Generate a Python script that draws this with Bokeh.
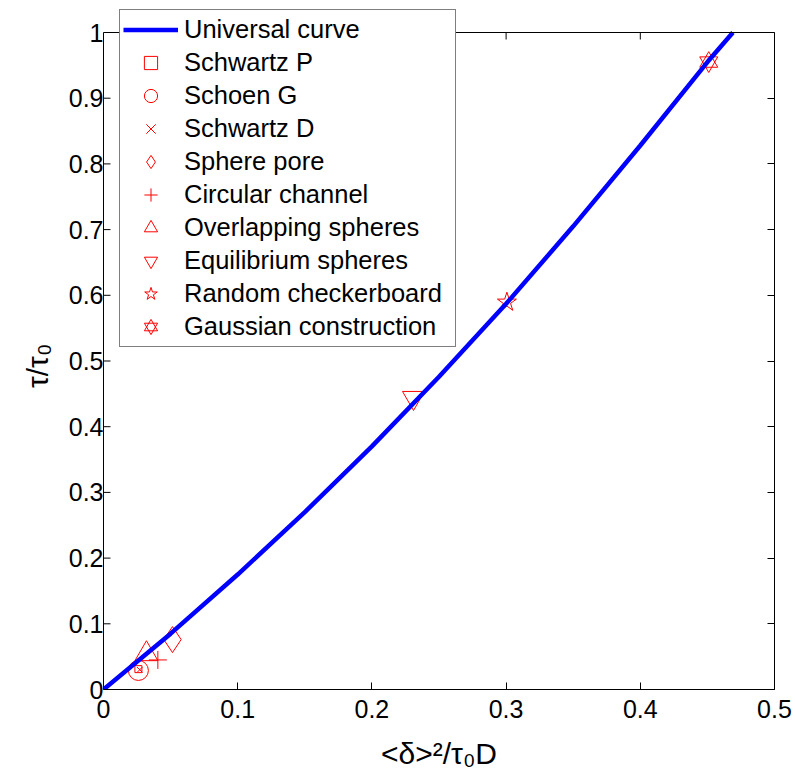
import math
from bokeh.plotting import figure
from bokeh.models import Legend, LegendItem, LinearAxis, FixedTicker, Range1d, Span, Title
from bokeh.embed import file_html
from bokeh.resources import INLINE

# ---------------- data ----------------
curve_x = [0.0, 0.05, 0.10, 0.15, 0.20, 0.25, 0.30, 0.35, 0.40, 0.45, 0.469]
curve_y = [0.0, 0.085, 0.175, 0.270, 0.370, 0.476, 0.587, 0.705, 0.828, 0.955, 1.0]

schwartz_p_x = [0.026]
schwartz_p_y = [0.031]
schoen_g_x = [0.026]
schoen_g_y = [0.029]
schwartz_d_x = [0.027]
schwartz_d_y = [0.030]
sphere_pore_x = [0.0514]
sphere_pore_y = [0.076]
circ_channel_x = [0.0405]
circ_channel_y = [0.045]
overlap_x = [0.032]
overlap_y = [0.054]
equil_x = [0.231]
equil_y = [0.444]
checker_x = [0.3006]
checker_y = [0.5895]
gauss_x = [0.451]
gauss_y = [0.955]

x_ticks = [0, 0.1, 0.2, 0.3, 0.4, 0.5]
x_tick_labels = ["0", "0.1", "0.2", "0.3", "0.4", "0.5"]
y_ticks = [0, 0.1, 0.2, 0.3, 0.4, 0.5, 0.6, 0.7, 0.8, 0.9, 1]
y_tick_labels = ["0", "0.1", "0.2", "0.3", "0.4", "0.5", "0.6", "0.7", "0.8", "0.9", "1"]

x_title = "<δ>²/τ₀D"
y_title = "τ/τ₀"

FONT = "Liberation Sans"
RED = "#ff0000"
BLUE = "#0000ff"

# ---------------- layout (pixels) ----------------
W, H = 795, 776
FRAME_L, FRAME_R = 103, 774     # axes box left / right
BOX_TOP, FRAME_B = 32, 689      # axes box top / bottom
# the frame reaches the top of the canvas so the legend may overhang the box
Y_END = FRAME_B / (FRAME_B - BOX_TOP)

p = figure(width=W, height=H, x_range=Range1d(0, 0.5), y_range=Range1d(0, Y_END),
           output_backend="svg", toolbar_location=None,
           min_border_left=FRAME_L, min_border_right=W - FRAME_R,
           min_border_top=0, min_border_bottom=H - FRAME_B)
p.xgrid.visible = False
p.ygrid.visible = False
p.outline_line_color = None
p.background_fill_color = "white"
p.border_fill_color = "white"

def style_axis(ax, ticks, labels, show, tick_in=7):
    ax.ticker = FixedTicker(ticks=ticks)
    ax.major_label_overrides = {t: (l if show else "") for t, l in zip(ticks, labels)}
    ax.major_tick_in = tick_in
    ax.major_tick_out = 0
    ax.minor_tick_in = 0
    ax.minor_tick_out = 0
    ax.major_tick_line_color = "black"
    ax.axis_line_color = "black"
    ax.major_label_text_font = FONT
    ax.major_label_text_font_size = "25px"
    ax.major_label_text_color = "black"

xa = p.xaxis[0]
ya = p.yaxis[0]
style_axis(xa, x_ticks, x_tick_labels, True)
style_axis(ya, y_ticks, y_tick_labels, True, tick_in=0)   # inward ticks drawn below
ya.bounds = (0, 1)
xa.major_label_standoff = 10
ya.major_label_standoff = 0

xa.axis_label = x_title
xa.axis_label_text_font = FONT
xa.axis_label_text_font_size = "30px"
xa.axis_label_text_font_style = "normal"
xa.axis_label_text_color = "black"
xa.axis_label_standoff = 16

# trailing no-break spaces move the centred, rotated title down along the axis
ytitle = Title(text=y_title + "\u00a0" * 5, align="center", standoff=24,
               text_font=FONT, text_font_size="30px", text_font_style="normal",
               text_color="black")
p.add_layout(ytitle, "left")

right_ax = LinearAxis(bounds=(0, 1))
style_axis(right_ax, y_ticks, y_tick_labels, False)
p.add_layout(right_ax, "right")

# top edge of the axes box, inward ticks on top and left
p.add_layout(Span(location=1, dimension="width", line_color="black", line_width=1))
p.ray(x=x_ticks, y=[1] * len(x_ticks), length=7, length_units="screen",
      angle=-math.pi / 2, line_color="black", line_width=1)
p.ray(x=[0] * len(y_ticks), y=y_ticks, length=7, length_units="screen",
      angle=0, line_color="black", line_width=1)

# ---------------- markers ----------------
mk = dict(line_color=RED, fill_color=None, line_width=1)
r_sp = p.scatter(schwartz_p_x, schwartz_p_y, marker="square", size=7, **mk)
r_sg = p.scatter(schoen_g_x, schoen_g_y, marker="circle", size=20, **mk)
r_sd = p.scatter(schwartz_d_x, schwartz_d_y, marker="x", size=8, **mk)
r_spore = p.scatter(sphere_pore_x, sphere_pore_y, marker="diamond", size=26, **mk)
r_cc = p.scatter(circ_channel_x, circ_channel_y, marker="cross", size=18, **mk)
r_ov = p.scatter(overlap_x, overlap_y, marker="triangle", size=23, **mk)
r_eq = p.scatter(equil_x, equil_y, marker="inverted_triangle", size=22, **mk)
r_rc = p.scatter(checker_x, checker_y, marker="star", size=20, **mk)
r_g1 = p.scatter(gauss_x, gauss_y, marker="triangle", size=18, **mk)
r_g2 = p.scatter(gauss_x, gauss_y, marker="inverted_triangle", size=18, **mk)

r_curve = p.line(curve_x, curve_y, line_color=BLUE, line_width=4.5)

# ---------------- legend ----------------
items = [
    LegendItem(label="Universal curve", renderers=[r_curve]),
    LegendItem(label="Schwartz P", renderers=[r_sp]),
    LegendItem(label="Schoen G", renderers=[r_sg]),
    LegendItem(label="Schwartz D", renderers=[r_sd]),
    LegendItem(label="Sphere pore", renderers=[r_spore]),
    LegendItem(label="Circular channel", renderers=[r_cc]),
    LegendItem(label="Overlapping spheres", renderers=[r_ov]),
    LegendItem(label="Equilibrium spheres", renderers=[r_eq]),
    LegendItem(label="Random checkerboard", renderers=[r_rc]),
    LegendItem(label="Gaussian construction", renderers=[r_g1, r_g2]),
]
legend = Legend(items=items, location=(16, 342), margin=0, padding=3, spacing=0,
                glyph_width=55, glyph_height=33, label_height=33, label_width=268,
                label_standoff=6, border_line_color="black", border_line_width=1,
                background_fill_color="white", background_fill_alpha=1.0,
                label_text_font=FONT, label_text_font_size="25.5px", label_text_color="black")
p.add_layout(legend)

open("out.html", "w").write(file_html(p, INLINE))
